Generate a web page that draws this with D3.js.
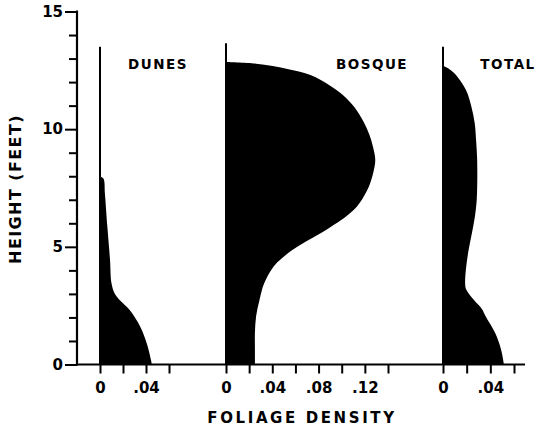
<!DOCTYPE html>
<html>
<head>
<meta charset="utf-8">
<script src="https://cdn.jsdelivr.net/npm/d3@7"></script>
<style>
  body { margin: 0; background: #fff; }
  text { font-family: "DejaVu Sans", sans-serif; font-weight: bold; fill: #000; }
</style>
</head>
<body>
<svg id="chart"></svg>
<script>
// foliage density profiles (height in feet, density)
const dunesHeight = [0, 0.2, 0.9, 1.6, 2.3, 2.6, 3.0, 3.45, 4.45, 5.85, 7.25, 7.9, 8.0];
const dunesDensity = [0.045, 0.0443, 0.0406, 0.035, 0.026, 0.02, 0.013, 0.010, 0.0087, 0.0064, 0.0043, 0.003, 0];

const bosqueHeight = [0, 0.65, 1.35, 2.05, 2.75, 3.45, 4.15, 4.5, 4.85, 5.2, 5.6, 6.3, 6.7, 7.4, 8.1, 8.7, 9.25, 9.75, 10.3, 10.9, 11.45, 11.85, 12.3, 12.55, 12.78, 12.85];
const bosqueDensity = [0.025, 0.025, 0.025, 0.026, 0.029, 0.033, 0.041, 0.048, 0.057, 0.068, 0.0825, 0.104, 0.113, 0.122, 0.127, 0.129, 0.127, 0.124, 0.119, 0.1115, 0.101, 0.09, 0.073, 0.054, 0.026, 0];

const totalHeight = [0, 0.65, 1.35, 2.05, 2.35, 2.75, 3.2, 3.45, 4.15, 4.85, 5.6, 6.3, 7.0, 8.1, 8.8, 9.5, 10.25, 10.95, 11.65, 12.35, 12.6, 12.7];
const totalDensity = [0.0515, 0.049, 0.044, 0.036, 0.033, 0.026, 0.0195, 0.0187, 0.0196, 0.0216, 0.0245, 0.027, 0.0285, 0.029, 0.0288, 0.028, 0.0268, 0.024, 0.0195, 0.01, 0.004, 0];

const panelNames = ["DUNES", "BOSQUE", "TOTAL"];
const dunesTicks = [0, 0.02, 0.04, 0.06];
const bosqueTicks = [0, 0.02, 0.04, 0.06, 0.08, 0.10, 0.12, 0.14];
const totalTicks = [0, 0.02, 0.04, 0.06];
const labelledTicks = [0, 0.04, 0.08, 0.12];
const heightTicks = d3.range(0, 16);
const heightLabels = [0, 5, 10, 15];

const width = 537, height = 429;

const svg = d3.select("#chart").attr("width", width).attr("height", height);

const y = d3.scaleLinear().domain([0, 15]).range([364.5, 11.5]);

// each panel has its own density scale, all sharing the same baseline
const panels = [
  { name: panelNames[0], h: dunesHeight, v: dunesDensity, ticks: dunesTicks,
    x: d3.scaleLinear().domain([0, 0.06]).range([100, 169]), stemTop: 13.5, titleX: 158 },
  { name: panelNames[1], h: bosqueHeight, v: bosqueDensity, ticks: bosqueTicks,
    x: d3.scaleLinear().domain([0, 0.14]).range([226, 388]), stemTop: 13.65, titleX: 372 },
  { name: panelNames[2], h: totalHeight, v: totalDensity, ticks: totalTicks,
    x: d3.scaleLinear().domain([0, 0.06]).range([443, 514]), stemTop: 13.5, titleX: 508 },
];

const fmt = d => {
  if (!labelledTicks.some(t => Math.abs(t - d) < 1e-9)) return "";
  return d === 0 ? "0" : d3.format(".2f")(d).replace(/^0/, "");
};

// y axis
const yAxis = d3.axisLeft(y)
  .tickValues(heightTicks)
  .tickSize(8)
  .tickFormat(d => heightLabels.includes(d) ? d : "");

const yAxisGroup = svg.append("g")
  .attr("transform", "translate(77,0)")
  .call(yAxis);
yAxisGroup.select(".domain").remove();
yAxisGroup.selectAll(".tick line")
  .attr("stroke-width", 2)
  .attr("x2", d => heightLabels.includes(d) ? -12 : -8);
yAxisGroup.selectAll(".tick text")
  .attr("x", -14)
  .style("font-size", "15px");
yAxisGroup.append("line")
  .attr("x1", 0).attr("x2", 0)
  .attr("y1", y(15) - 1).attr("y2", y(0) + 1)
  .attr("stroke", "#000").attr("stroke-width", 2.2);

// baseline
svg.append("line")
  .attr("x1", 77).attr("x2", 525)
  .attr("y1", y(0)).attr("y2", y(0))
  .attr("stroke", "#000").attr("stroke-width", 2);

panels.forEach(p => {
  const data = d3.zip(p.h, p.v).map(([h, v]) => ({ h, v }));

  const area = d3.area()
    .curve(d3.curveCatmullRom.alpha(0.5))
    .y(d => y(d.h))
    .x0(p.x(0))
    .x1(d => p.x(d.v));

  svg.append("path")
    .datum(data)
    .attr("d", area)
    .attr("fill", "#000");

  // stem line of the panel
  svg.append("line")
    .attr("x1", p.x(0)).attr("x2", p.x(0))
    .attr("y1", y(p.stemTop)).attr("y2", y(0))
    .attr("stroke", "#000").attr("stroke-width", 2);

  const xAxis = d3.axisBottom(p.x)
    .tickValues(p.ticks)
    .tickSize(9)
    .tickPadding(9)
    .tickFormat(fmt);

  const g = svg.append("g")
    .attr("transform", `translate(0,${y(0)})`)
    .call(xAxis);
  g.select(".domain").remove();
  g.selectAll(".tick line").attr("stroke-width", 2);
  g.selectAll(".tick text").style("font-size", "15px");

  svg.append("text")
    .attr("x", p.titleX)
    .attr("y", 69)
    .attr("text-anchor", "middle")
    .style("font-size", "13.5px")
    .style("letter-spacing", "1.5px")
    .text(p.name);
});

// axis titles
svg.append("text")
  .attr("x", 302)
  .attr("y", 423)
  .attr("text-anchor", "middle")
  .style("font-size", "15px")
  .style("letter-spacing", "2.6px")
  .text("FOLIAGE DENSITY");

svg.append("text")
  .attr("transform", "translate(21,189) rotate(-90)")
  .attr("text-anchor", "middle")
  .style("font-size", "16px")
  .style("letter-spacing", "1.4px")
  .text("HEIGHT (FEET)");
</script>
</body>
</html>
